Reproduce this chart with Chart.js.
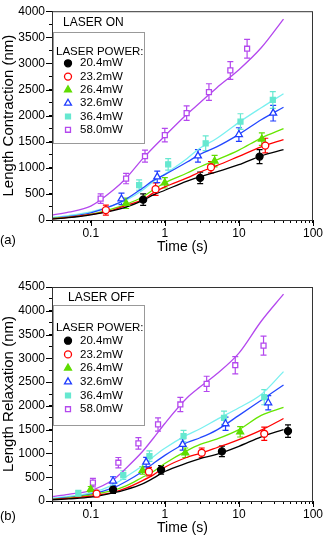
<!DOCTYPE html>
<html>
<head>
<meta charset="utf-8">
<script src="https://cdn.jsdelivr.net/npm/chart.js@4.4.1/dist/chart.umd.min.js"></script>
<style>
body { margin: 0; background: #fff; width: 326px; height: 537px; overflow: hidden; }
.panel { position: relative; width: 326px; }
</style>
</head>
<body>
<div class="panel" style="height:268px"><canvas id="onChart"></canvas></div>
<div class="panel" style="height:269px"><canvas id="offChart"></canvas></div>
<script>
var powers = ["20.4mW", "23.2mW", "26.4mW", "32.6mW", "36.4mW", "58.0mW"];
var markColors = ["#000000", "#ff0000", "#5fdc00", "#1f3cff", "#66e8d0", "#b448ee"];
var lineColors = ["#000000", "#ff0000", "#66e600", "#2448ff", "#7af0f0", "#b448ee"];
var markStyles = ["circle", "circle", "triangle", "triangle", "rect", "rect"];
var markFilled = [true, false, true, false, true, false];

// times where the fitted curves were read
var fitTimes = [0.03, 0.05, 0.1, 0.2, 0.3, 0.5, 0.7, 1, 2, 3, 5, 10, 20, 40];

// (a) laser on - measured points
var onPtTime = [
    [0.51, 3.0, 19],
    [0.16, 0.75, 4.2, 22.7],
    [0.30, 1.0, 4.7, 20.4],
    [0.26, 0.79, 2.8, 10, 29],
    [0.45, 1.11, 3.56, 10.5, 28.7],
    [0.136, 0.30, 0.54, 1.0, 1.97, 3.94, 7.66, 12.9]
];
var onPtVal = [
    [390, 806, 1215],
    [190, 590, 1011, 1426],
    [320, 713, 1129, 1550],
    [403, 825, 1228, 1637, 2047],
    [670, 1067, 1470, 1885, 2300],
    [409, 794, 1222, 1625, 2047, 2450, 2865, 3281]
];
var onPtErr = [
    [110, 110, 135],
    [95, 120, 110, 140],
    [100, 100, 110, 120],
    [110, 110, 120, 130, 150],
    [100, 110, 140, 150, 160],
    [90, 100, 115, 130, 140, 160, 170, 180]
];
var onFit = [
    [19, 45, 99, 180, 248, 372, 480, 570, 744, 830, 920, 1060, 1230, 1350],
    [25, 50, 106, 190, 279, 385, 520, 633, 806, 920, 1040, 1220, 1400, 1540],
    [31, 55, 112, 220, 300, 440, 580, 713, 900, 1020, 1150, 1340, 1570, 1750],
    [37, 65, 136, 280, 400, 610, 760, 870, 1110, 1260, 1400, 1640, 1920, 2160],
    [50, 85, 155, 280, 380, 570, 740, 880, 1180, 1380, 1560, 1870, 2150, 2420],
    [93, 150, 265, 570, 800, 1170, 1390, 1610, 2030, 2250, 2530, 2880, 3300, 3850]
];

// (b) laser off - measured points
var offPtTime = [
    [0.2, 0.89, 5.9, 46],
    [0.12, 0.61, 3.15, 22],
    [0.1, 0.5, 1.89, 10.4],
    [0.2, 0.56, 1.74, 6.6, 24.9],
    [0.068, 0.275, 0.62, 1.79, 6.3, 22],
    [0.107, 0.236, 0.44, 0.81, 1.62, 3.67, 8.93, 21.5]
];
var offPtVal = [
    [240, 655, 1043, 1470],
    [154, 616, 1015, 1414],
    [245, 644, 1015, 1456],
    [420, 819, 1190, 1624, 2065],
    [154, 546, 945, 1365, 1750, 2184],
    [385, 805, 1211, 1610, 2030, 2463, 2855, 3268]
];
var offPtErr = [
    [80, 90, 110, 130],
    [70, 90, 100, 140],
    [60, 80, 100, 110],
    [90, 100, 120, 140, 150],
    [70, 90, 110, 120, 140, 160],
    [90, 110, 120, 140, 150, 160, 180, 200]
];
var offFit = [
    [25, 45, 80, 170, 240, 360, 480, 620, 800, 890, 980, 1150, 1350, 1500],
    [30, 55, 100, 180, 270, 430, 550, 710, 920, 1000, 1120, 1290, 1490, 1735],
    [35, 65, 130, 225, 320, 500, 620, 790, 1060, 1190, 1300, 1500, 1800, 1970],
    [40, 75, 145, 275, 410, 620, 790, 960, 1230, 1330, 1490, 1800, 2120, 2440],
    [60, 95, 170, 340, 510, 740, 930, 1110, 1390, 1520, 1710, 1960, 2240, 2720],
    [90, 140, 220, 445, 690, 1040, 1320, 1630, 2170, 2400, 2670, 3110, 3780, 4350]
];

var FONT = "'Liberation Sans', Arial, sans-serif";
Chart.defaults.font.family = FONT;
Chart.defaults.color = "#000";

function toXY(xs, ys) {
    var out = [];
    for (var i = 0; i < xs.length; i++) out.push({x: xs[i], y: ys[i]});
    return out;
}

// frame, error bars, legend box and labels
var extras = {
    id: "extras",
    beforeDatasetsDraw: function (chart) {
        var ctx = chart.ctx, xs = chart.scales.x, ys = chart.scales.y;
        ctx.save();
        ctx.lineWidth = 1.2;
        chart.data.datasets.forEach(function (ds) {
            if (!ds.errors) return;
            ctx.strokeStyle = ds.borderColor;
            ds.data.forEach(function (p, i) {
                var px = xs.getPixelForValue(p.x);
                var y1 = ys.getPixelForValue(p.y - ds.errors[i]);
                var y2 = ys.getPixelForValue(p.y + ds.errors[i]);
                ctx.beginPath();
                ctx.moveTo(px, y1); ctx.lineTo(px, y2);
                ctx.moveTo(px - 3, y1); ctx.lineTo(px + 3, y1);
                ctx.moveTo(px - 3, y2); ctx.lineTo(px + 3, y2);
                ctx.stroke();
            });
        });
        ctx.restore();
    },
    afterDraw: function (chart) {
        var o = chart.options.plugins.extras;
        var ctx = chart.ctx, a = chart.chartArea;
        var xs = chart.scales.x, ys = chart.scales.y;
        ctx.save();
        ctx.strokeStyle = "#333";
        ctx.lineWidth = 1;
        ctx.strokeRect(a.left + 0.5, a.top + 0.5, a.right - a.left - 1, a.bottom - a.top);

        // longer major ticks
        ctx.strokeStyle = "#000";
        ctx.beginPath();
        xs.ticks.forEach(function (t) {
            var l = Math.log10(t.value);
            if (Math.abs(l - Math.round(l)) > 1e-6) return;
            var px = Math.round(xs.getPixelForValue(t.value)) + 0.5;
            ctx.moveTo(px, a.bottom); ctx.lineTo(px, a.bottom + 6);
        });
        ys.ticks.forEach(function (t) {
            if (t.value % 500 !== 0) return;
            var py = Math.round(ys.getPixelForValue(t.value)) + 0.5;
            ctx.moveTo(a.left, py); ctx.lineTo(a.left - 6, py);
        });
        ctx.stroke();

        ctx.fillStyle = "#000";
        ctx.textBaseline = "middle";
        ctx.textAlign = "left";
        ctx.font = "12px " + FONT;
        ctx.fillText(o.label, o.labelX, o.labelY);
        ctx.font = "13px " + FONT;
        ctx.fillText(o.panel, 0, o.panelY);

        // legend
        ctx.fillStyle = "#fff";
        ctx.fillRect(53, o.boxTop, 91, o.boxBottom - o.boxTop);
        ctx.strokeStyle = "#999";
        ctx.strokeRect(53.5, o.boxTop + 0.5, 91, o.boxBottom - o.boxTop);
        ctx.fillStyle = "#000";
        ctx.font = "11.5px " + FONT;
        ctx.fillText("LASER POWER:", 56, o.headY);
        var pts = chart.data.datasets.filter(function (d) { return d.errors; });
        pts.forEach(function (ds, i) {
            var y = o.rowY + i * o.rowStep;
            ctx.fillStyle = ds.backgroundColor;
            ctx.strokeStyle = ds.borderColor;
            ctx.lineWidth = ds.borderWidth;
            Chart.helpers.drawPoint(ctx, {pointStyle: ds.pointStyle, radius: ds.pointRadius, rotation: 0, borderWidth: ds.borderWidth}, 68, y);
            ctx.fillStyle = "#000";
            ctx.fillText(ds.label, 80, y);
        });
        ctx.restore();
    }
};

function makeChart(id, ptTime, ptVal, ptErr, fit, yMax, yTitle, pad, ex) {
    var datasets = [];
    for (var k = 0; k < powers.length; k++) {
        datasets.push({
            type: "scatter",
            label: powers[k],
            data: toXY(ptTime[k], ptVal[k]),
            errors: ptErr[k],
            pointStyle: markStyles[k],
            pointRadius: markStyles[k] == "triangle" ? 4 : 3.5,
            borderWidth: 1.3,
            borderColor: markColors[k],
            backgroundColor: markFilled[k] ? markColors[k] : "#fff",
            pointBackgroundColor: markFilled[k] ? markColors[k] : "#fff",
            order: 0
        });
    }
    for (var k = 0; k < powers.length; k++) {
        datasets.push({
            type: "line",
            label: powers[k] + " fit",
            data: toXY(fitTimes, fit[k]),
            borderColor: lineColors[k],
            borderWidth: 1.3,
            pointRadius: 0,
            cubicInterpolationMode: "monotone",
            fill: false,
            order: 1
        });
    }
    return new Chart(document.getElementById(id), {
        type: "scatter",
        data: {datasets: datasets},
        options: {
            responsive: true,
            maintainAspectRatio: false,
            animation: false,
            layout: {padding: pad},
            plugins: {
                legend: {display: false},
                tooltip: {enabled: false},
                extras: ex
            },
            scales: {
                x: {
                    type: "logarithmic",
                    min: 0.03,
                    max: 100,
                    afterFit: function (s) { s.height = 36; },
                    grid: {drawOnChartArea: false, drawTicks: true, tickLength: 3, tickColor: "#000"},
                    border: {display: true, color: "#000"},
                    ticks: {
                        autoSkip: false,
                        maxRotation: 0,
                        padding: 3,
                        font: {size: 12},
                        callback: function (v) {
                            var l = Math.log10(v), r = Math.round(l);
                            if (Math.abs(l - r) > 1e-6) return "";
                            return ["0.1", "1", "10", "100"][r + 1] || "";
                        }
                    },
                    title: {display: true, text: "Time (s)", font: {size: 14}, padding: 0}
                },
                y: {
                    min: 0,
                    max: yMax,
                    afterFit: function (s) { s.width = 52; },
                    grid: {drawOnChartArea: false, drawTicks: true, tickLength: 3, tickColor: "#000"},
                    border: {display: true, color: "#000"},
                    ticks: {
                        stepSize: 250,
                        autoSkip: false,
                        padding: 4,
                        font: {size: 12},
                        callback: function (v) { return v % 500 === 0 ? String(v) : ""; }
                    },
                    title: {display: true, text: yTitle, font: {size: 15}, padding: 0}
                }
            }
        },
        plugins: [extras]
    });
}

makeChart("onChart", onPtTime, onPtVal, onPtErr, onFit, 4000, "Length Contraction (nm)",
    {top: 5, right: 10, bottom: 12, left: 0},
    {label: "LASER ON", labelX: 63, labelY: 23, panel: "(a)", panelY: 240,
     boxTop: 32, boxBottom: 143, headY: 51.5, rowY: 63.3, rowStep: 13.3});

makeChart("offChart", offPtTime, offPtVal, offPtErr, offFit, 4500, "Length Relaxation (nm)",
    {top: 19, right: 10, bottom: 0, left: 0},
    {label: "LASER OFF", labelX: 68, labelY: 29.5, panel: "(b)", panelY: 248,
     boxTop: 37, boxBottom: 157, headY: 60, rowY: 72.7, rowStep: 13.7});
</script>
</body>
</html>
